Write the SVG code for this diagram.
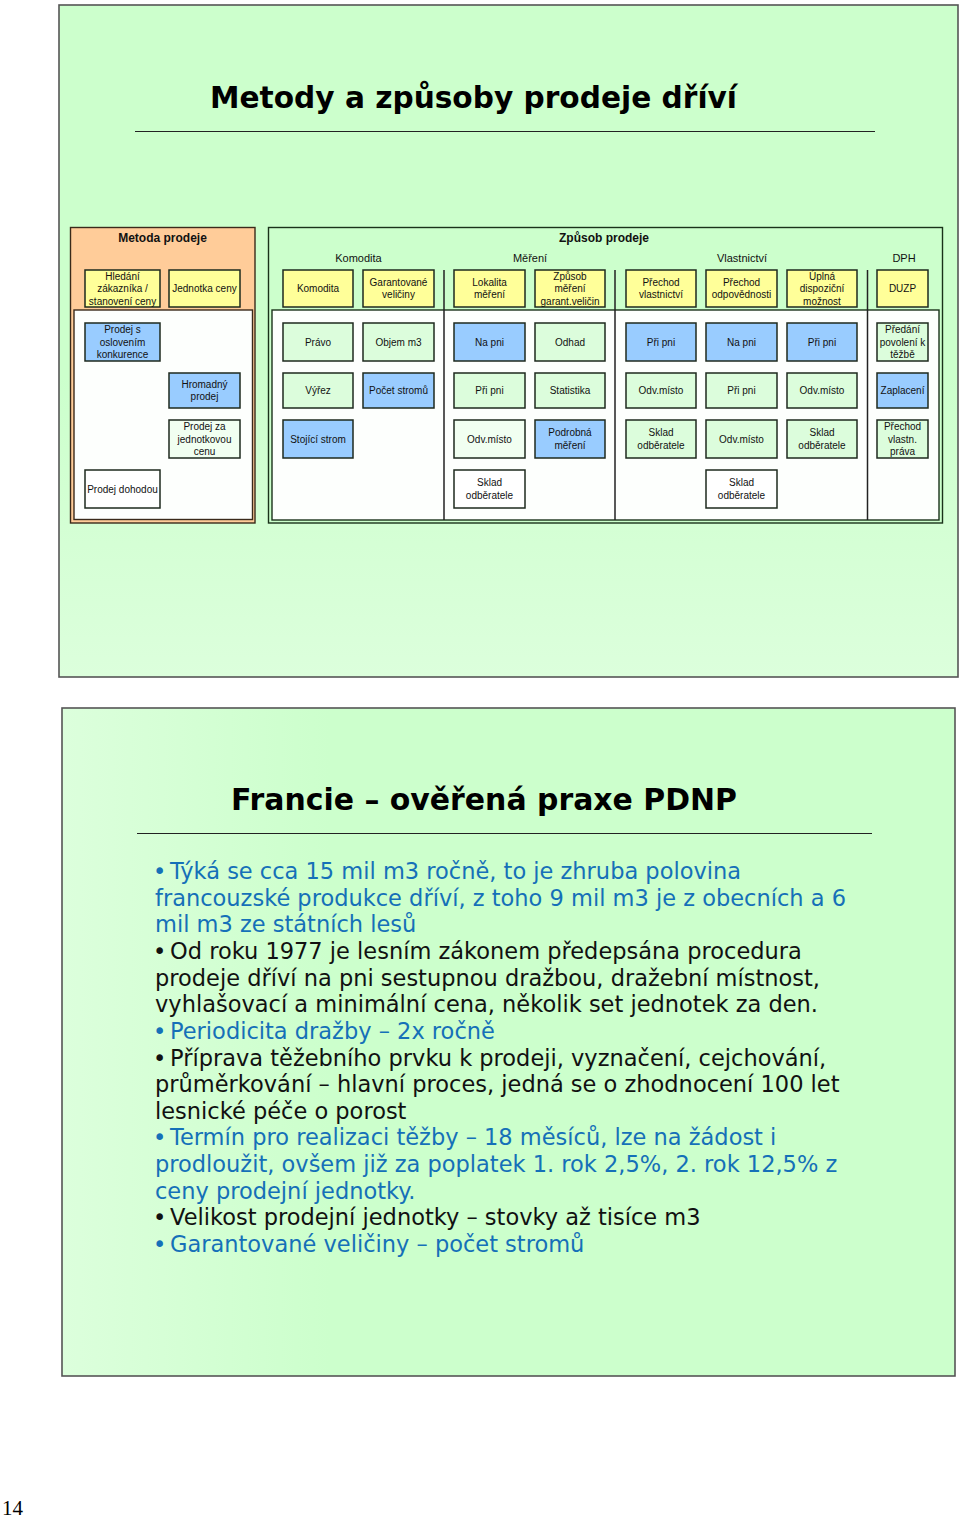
<svg xmlns="http://www.w3.org/2000/svg" width="960" height="1517" viewBox="0 0 960 1517">
<defs>
<linearGradient id="bg1" x1="0" y1="0" x2="0" y2="1">
<stop offset="0" stop-color="#ccffcc"/><stop offset="0.55" stop-color="#ccffcc"/><stop offset="1" stop-color="#dcffdc"/>
</linearGradient>
<linearGradient id="bg2" x1="0" y1="0" x2="1" y2="0">
<stop offset="0" stop-color="#dcffdc"/><stop offset="0.3" stop-color="#ccffcc"/><stop offset="1" stop-color="#ccffcc"/>
</linearGradient>
<style>
.slide{stroke:#555;stroke-width:1.6}
.uline{stroke:#222;stroke-width:1.2}
.title{font-family:"DejaVu Sans",Verdana,sans-serif;font-weight:bold;font-size:30px;fill:#000}
.hdr{font-family:"Liberation Sans",Arial,sans-serif;font-size:11px;fill:#111;text-anchor:middle}
.hdrb{font-family:"Liberation Sans",Arial,sans-serif;font-size:12px;font-weight:bold;fill:#111;text-anchor:middle}
.bx rect{stroke:#1e2a1e;stroke-width:1.5}
.bx text{font-family:"Liberation Sans",Arial,sans-serif;font-size:10px;fill:#111;text-anchor:middle}
.y{fill:#ffff99}.b{fill:#99ccff}.g{fill:#dcfddc}.lg{fill:#f1fff1}.w{fill:#ffffff}
.div{stroke:#222;stroke-width:1.5}
.body{font-family:"DejaVu Sans",Verdana,sans-serif;font-size:22.5px}
.bl{fill:#1570b8}.bk{fill:#111}
</style>
</defs>

<!-- Slide 1 -->
<rect class="slide" x="59" y="5" width="899" height="672" fill="url(#bg1)"/>
<text class="title" x="210" y="108" textLength="527" lengthAdjust="spacingAndGlyphs">Metody a způsoby prodeje dříví</text>
<line class="uline" x1="135" y1="131.5" x2="875" y2="131.5"/>

<g id="metoda-prodeje">
<rect x="70.5" y="227.5" width="184.5" height="295.5" fill="#ffcc99" stroke="#3a2a1a" stroke-width="1.4"/>
<rect x="74" y="310" width="178.5" height="209.5" fill="#fdfffd" stroke="#3a2a1a" stroke-width="1.4"/>
<text class="hdrb" x="162.5" y="242">Metoda prodeje</text>
</g>

<g id="zpusob-prodeje">
<rect x="268.5" y="227.5" width="674" height="295.5" fill="#ccffcc" stroke="#1a321a" stroke-width="1.4"/>
<rect x="272" y="310" width="667" height="210" fill="#fdfffd" stroke="#1a321a" stroke-width="1.4"/>
<text class="hdrb" x="604" y="242">Způsob prodeje</text>
<text class="hdr" x="358.5" y="262">Komodita</text>
<text class="hdr" x="530" y="262">Měření</text>
<text class="hdr" x="742" y="262">Vlastnictví</text>
<text class="hdr" x="904" y="262">DPH</text>
</g>

<g id="connectors">
<line class="div" x1="444" y1="270" x2="444" y2="520"/>
<line class="div" x1="615" y1="270" x2="615" y2="520"/>
<line class="div" x1="867.5" y1="270" x2="867.5" y2="520"/>
</g>

<!-- Row 1 -->
<g id="n-hledani" class="bx"><rect class="y" x="85" y="270" width="75" height="37"/><text x="122.5" y="279.5">Hledání</text><text x="122.5" y="292">zákazníka /</text><text x="122.5" y="304.5">stanovení ceny</text></g>
<g id="n-jednotka" class="bx"><rect class="y" x="169" y="270" width="71" height="37"/><text x="204.5" y="292">Jednotka ceny</text></g>
<g id="n-komodita" class="bx"><rect class="y" x="283" y="270" width="70" height="37"/><text x="318" y="292">Komodita</text></g>
<g id="n-garantovane" class="bx"><rect class="y" x="363" y="270" width="71" height="37"/><text x="398.5" y="285.8">Garantované</text><text x="398.5" y="298.3">veličiny</text></g>
<g id="n-lokalita" class="bx"><rect class="y" x="454" y="270" width="71" height="37"/><text x="489.5" y="285.8">Lokalita</text><text x="489.5" y="298.3">měření</text></g>
<g id="n-zpusob-mereni" class="bx"><rect class="y" x="535" y="270" width="70" height="37"/><text x="570" y="279.5">Způsob</text><text x="570" y="292">měření</text><text x="570" y="304.5">garant.veličin</text></g>
<g id="n-prechod-vl" class="bx"><rect class="y" x="626" y="270" width="70" height="37"/><text x="661" y="285.8">Přechod</text><text x="661" y="298.3">vlastnictví</text></g>
<g id="n-prechod-odp" class="bx"><rect class="y" x="706" y="270" width="71" height="37"/><text x="741.5" y="285.8">Přechod</text><text x="741.5" y="298.3">odpovědnosti</text></g>
<g id="n-uplna" class="bx"><rect class="y" x="787" y="270" width="70" height="37"/><text x="822" y="279.5">Úplná</text><text x="822" y="292">dispoziční</text><text x="822" y="304.5">možnost</text></g>
<g id="n-duzp" class="bx"><rect class="y" x="877" y="270" width="51" height="37"/><text x="902.5" y="292">DUZP</text></g>

<!-- Row 2 -->
<g id="n-prodej-osl" class="bx"><rect class="b" x="85" y="323" width="75" height="38"/><text x="122.5" y="333">Prodej s</text><text x="122.5" y="345.5">oslovením</text><text x="122.5" y="358">konkurence</text></g>
<g id="n-pravo" class="bx"><rect class="g" x="283" y="323" width="70" height="38"/><text x="318" y="345.5">Právo</text></g>
<g id="n-objem" class="bx"><rect class="g" x="363" y="323" width="71" height="38"/><text x="398.5" y="345.5">Objem m3</text></g>
<g id="n-napni-1" class="bx"><rect class="b" x="454" y="323" width="71" height="38"/><text x="489.5" y="345.5">Na pni</text></g>
<g id="n-odhad" class="bx"><rect class="g" x="535" y="323" width="70" height="38"/><text x="570" y="345.5">Odhad</text></g>
<g id="n-pripni-1" class="bx"><rect class="b" x="626" y="323" width="70" height="38"/><text x="661" y="345.5">Při pni</text></g>
<g id="n-napni-2" class="bx"><rect class="b" x="706" y="323" width="71" height="38"/><text x="741.5" y="345.5">Na pni</text></g>
<g id="n-pripni-2" class="bx"><rect class="b" x="787" y="323" width="70" height="38"/><text x="822" y="345.5">Při pni</text></g>
<g id="n-predani" class="bx"><rect class="g" x="877" y="323" width="51" height="38"/><text x="902.5" y="333">Předání</text><text x="902.5" y="345.5">povolení k</text><text x="902.5" y="358">těžbě</text></g>

<!-- Row 3 -->
<g id="n-hromadny" class="bx"><rect class="b" x="169" y="373" width="71" height="35"/><text x="204.5" y="387.8">Hromadný</text><text x="204.5" y="400.3">prodej</text></g>
<g id="n-vyrez" class="bx"><rect class="g" x="283" y="373" width="70" height="35"/><text x="318" y="394">Výřez</text></g>
<g id="n-pocet" class="bx"><rect class="b" x="363" y="373" width="71" height="35"/><text x="398.5" y="394">Počet stromů</text></g>
<g id="n-pripni-3" class="bx"><rect class="g" x="454" y="373" width="71" height="35"/><text x="489.5" y="394">Při pni</text></g>
<g id="n-statistika" class="bx"><rect class="g" x="535" y="373" width="70" height="35"/><text x="570" y="394">Statistika</text></g>
<g id="n-odv-1" class="bx"><rect class="g" x="626" y="373" width="70" height="35"/><text x="661" y="394">Odv.místo</text></g>
<g id="n-pripni-4" class="bx"><rect class="g" x="706" y="373" width="71" height="35"/><text x="741.5" y="394">Při pni</text></g>
<g id="n-odv-2" class="bx"><rect class="g" x="787" y="373" width="70" height="35"/><text x="822" y="394">Odv.místo</text></g>
<g id="n-zaplaceni" class="bx"><rect class="b" x="877" y="373" width="51" height="35"/><text x="902.5" y="394">Zaplacení</text></g>

<!-- Row 4 -->
<g id="n-prodej-jedn" class="bx"><rect class="lg" x="169" y="420" width="71" height="38"/><text x="204.5" y="430">Prodej za</text><text x="204.5" y="442.5">jednotkovou</text><text x="204.5" y="455">cenu</text></g>
<g id="n-stojici" class="bx"><rect class="b" x="283" y="420" width="70" height="38"/><text x="318" y="442.5">Stojící strom</text></g>
<g id="n-odv-3" class="bx"><rect class="lg" x="454" y="420" width="71" height="38"/><text x="489.5" y="442.5">Odv.místo</text></g>
<g id="n-podrobna" class="bx"><rect class="b" x="535" y="420" width="70" height="38"/><text x="570" y="436.3">Podrobná</text><text x="570" y="448.8">měření</text></g>
<g id="n-sklad-1" class="bx"><rect class="g" x="626" y="420" width="70" height="38"/><text x="661" y="436.3">Sklad</text><text x="661" y="448.8">odběratele</text></g>
<g id="n-odv-4" class="bx"><rect class="g" x="706" y="420" width="71" height="38"/><text x="741.5" y="442.5">Odv.místo</text></g>
<g id="n-sklad-2" class="bx"><rect class="g" x="787" y="420" width="70" height="38"/><text x="822" y="436.3">Sklad</text><text x="822" y="448.8">odběratele</text></g>
<g id="n-prechod-pr" class="bx"><rect class="g" x="877" y="420" width="51" height="38"/><text x="902.5" y="430">Přechod</text><text x="902.5" y="442.5">vlastn.</text><text x="902.5" y="455">práva</text></g>

<!-- Row 5 -->
<g id="n-dohodou" class="bx"><rect class="w" x="85" y="470" width="75" height="38"/><text x="122.5" y="492.5">Prodej dohodou</text></g>
<g id="n-sklad-3" class="bx"><rect class="w" x="454" y="470" width="71" height="38"/><text x="489.5" y="486.3">Sklad</text><text x="489.5" y="498.8">odběratele</text></g>
<g id="n-sklad-4" class="bx"><rect class="w" x="706" y="470" width="71" height="38"/><text x="741.5" y="486.3">Sklad</text><text x="741.5" y="498.8">odběratele</text></g>

<!-- Slide 2 -->
<rect class="slide" x="62" y="708" width="893" height="668" fill="url(#bg2)"/>
<text class="title" x="231" y="810" textLength="506" lengthAdjust="spacingAndGlyphs">Francie – ověřená praxe PDNP</text>
<line class="uline" x1="137" y1="833.5" x2="872" y2="833.5"/>

<g id="body" class="body">
<text class="bl" x="153" y="879">•</text><text class="bl" x="170" y="879">Týká se cca 15 mil m3 ročně, to je zhruba polovina</text>
<text class="bl" x="155" y="905.6">francouzské produkce dříví, z toho 9 mil m3 je z obecních a 6</text>
<text class="bl" x="155" y="932.3">mil m3 ze státních lesů</text>
<text class="bk" x="153" y="958.9">•</text><text class="bk" x="170" y="958.9">Od roku 1977 je lesním zákonem předepsána procedura</text>
<text class="bk" x="155" y="985.6">prodeje dříví na pni sestupnou dražbou, dražební místnost,</text>
<text class="bk" x="155" y="1012.2">vyhlašovací a minimální cena, několik set jednotek za den.</text>
<text class="bl" x="153" y="1038.8">•</text><text class="bl" x="170" y="1038.8">Periodicita dražby – 2x ročně</text>
<text class="bk" x="153" y="1065.5">•</text><text class="bk" x="170" y="1065.5">Příprava těžebního prvku k prodeji, vyznačení, cejchování,</text>
<text class="bk" x="155" y="1092.1">průměrkování – hlavní proces, jedná se o zhodnocení 100 let</text>
<text class="bk" x="155" y="1118.8">lesnické péče o porost</text>
<text class="bl" x="153" y="1145.4">•</text><text class="bl" x="170" y="1145.4">Termín pro realizaci těžby – 18 měsíců, lze na žádost i</text>
<text class="bl" x="155" y="1172">prodloužit, ovšem již za poplatek 1. rok 2,5%, 2. rok 12,5% z</text>
<text class="bl" x="155" y="1198.7">ceny prodejní jednotky.</text>
<text class="bk" x="153" y="1225.3">•</text><text class="bk" x="170" y="1225.3">Velikost prodejní jednotky – stovky až tisíce m3</text>
<text class="bl" x="153" y="1252">•</text><text class="bl" x="170" y="1252">Garantované veličiny – počet stromů</text>
</g>

<text x="2" y="1515" font-family="Liberation Serif, Times New Roman, serif" font-size="21" fill="#000">14</text>
</svg>
